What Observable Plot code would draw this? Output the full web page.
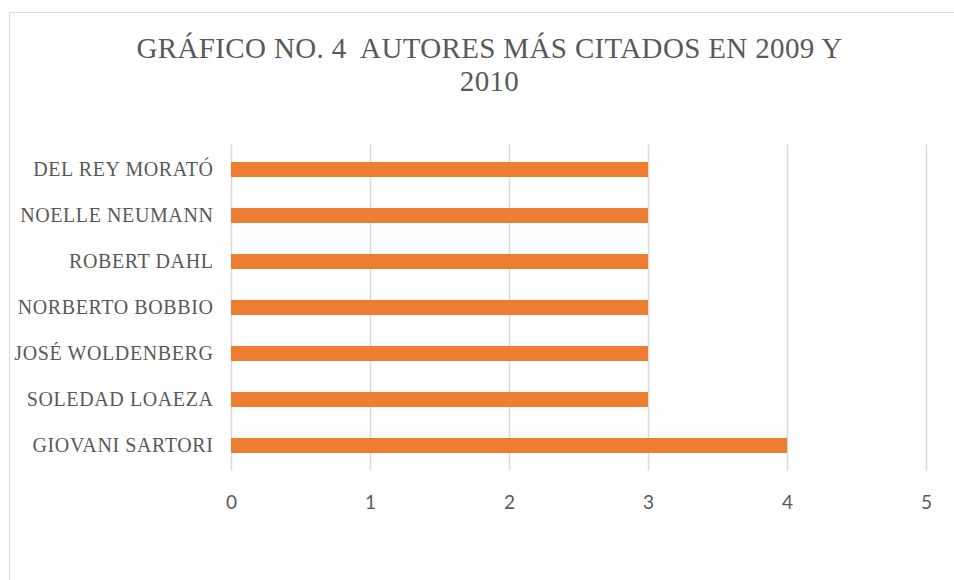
<!DOCTYPE html>
<html>
<head>
<meta charset="utf-8">
<script src="https://cdn.jsdelivr.net/npm/d3@7"></script>
<script src="https://cdn.jsdelivr.net/npm/@observablehq/plot@0.6"></script>
<style>
  html, body { margin: 0; padding: 0; background: #fff; }
  body { width: 954px; height: 580px; overflow: hidden; position: relative; }
  #frame { position: absolute; left: 9px; top: 12px; width: 1000px; height: 1000px;
           border-left: 1px solid #d9d9d9; border-top: 1px solid #d9d9d9; pointer-events: none; }
  #title { width: 954px; box-sizing: border-box; padding-left: 25px; padding-top: 32px; height: 120px;
           text-align: center; font-family: "Liberation Serif", serif; font-size: 29px; line-height: 33px;
           color: #595959; white-space: pre; letter-spacing: 0.35px; }
  #chart { display: block; }
  g[aria-label="y-axis tick label"] text { letter-spacing: 0.6px; }
</style>
</head>
<body>
<div id="frame"></div>
<div id="title">GRÁFICO NO. 4  AUTORES MÁS CITADOS EN 2009 Y
2010</div>
<div id="chart"></div>
<script>
const authors = ["DEL REY MORATÓ", "NOELLE NEUMANN", "ROBERT DAHL", "NORBERTO BOBBIO", "JOSÉ WOLDENBERG", "SOLEDAD LOAEZA", "GIOVANI SARTORI"];
const citations = [3, 3, 3, 3, 3, 3, 4];
const xTicks = [0, 1, 2, 3, 4, 5];

const data = authors.map((a, i) => ({author: a, value: citations[i]}));

const chart = Plot.plot({
  width: 954,
  height: 460,
  marginTop: 24.5,
  marginBottom: 109.5,
  marginLeft: 231,
  marginRight: 28,
  style: {background: "transparent", overflow: "visible"},
  x: {domain: [0, 5], ticks: xTicks},
  y: {domain: authors, paddingInner: 0.68, paddingOuter: 0.34},
  marks: [
    Plot.gridX(xTicks, {stroke: "#d9d9d9", strokeOpacity: 1, strokeWidth: 1.5}),
    Plot.barX(data, {x: "value", y: "author", fill: "#ED7D31"}),
    Plot.axisX(xTicks, {tickSize: 0, tickPadding: 24, fontSize: 19, fill: "#595959", fontFamily: "Lato, 'Open Sans', sans-serif", tickFormat: d3.format("d"), label: null}),
    Plot.axisY({tickSize: 0, tickPadding: 18, fontSize: 20, fill: "#595959", fontFamily: "'Liberation Serif', serif", label: null})
  ]
});
document.getElementById("chart").appendChild(chart);
</script>
</body>
</html>
